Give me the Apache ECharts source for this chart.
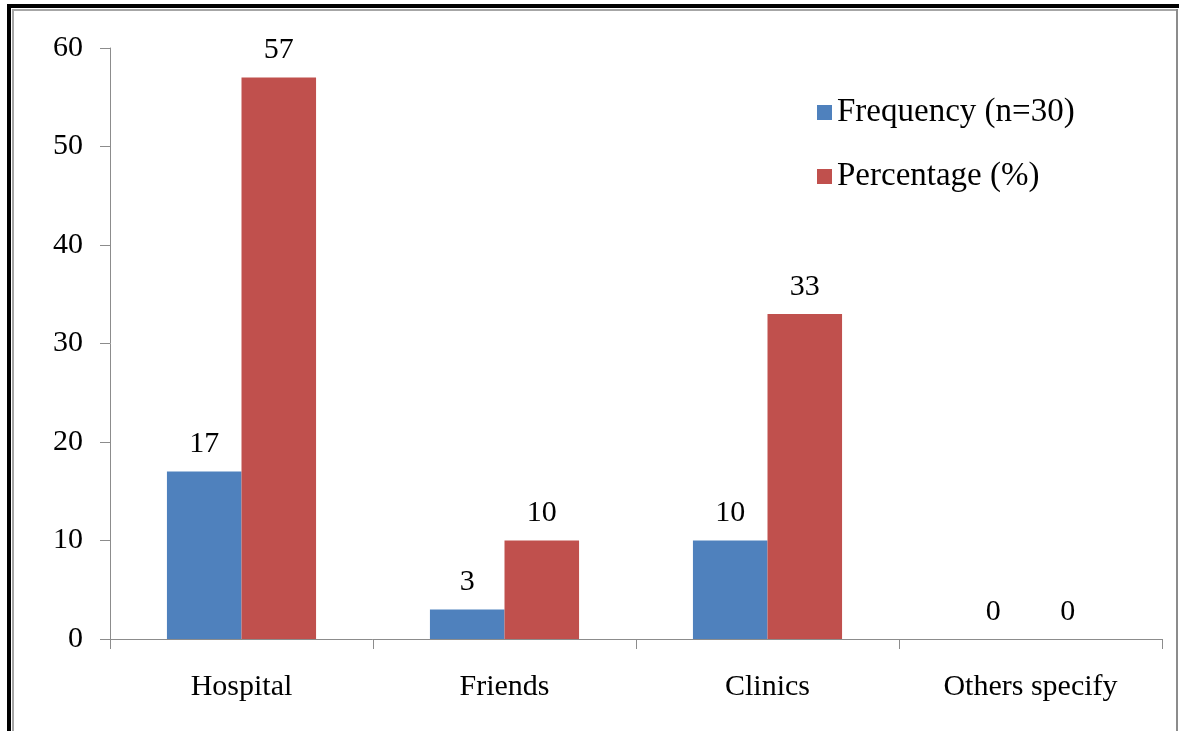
<!DOCTYPE html>
<html>
<head>
<meta charset="utf-8">
<title>Source of information</title>
<script src="https://cdn.jsdelivr.net/npm/echarts@6/dist/echarts.min.js"></script>
<style>
  html, body { margin: 0; padding: 0; background: #ffffff; }
  #chart { width: 1179px; height: 731px; }
</style>
</head>
<body>
<div id="chart"></div>
<script>
// Where respondents obtained information
const categories = ['Hospital', 'Friends', 'Clinics', 'Others specify'];
const frequency = [17, 3, 10, 0];
const percentage = [57, 10, 33, 0];
const seriesNames = ['Frequency (n=30)', 'Percentage (%)'];
const yTicks = { min: 0, max: 60, interval: 10 };

const FONT = '"Liberation Serif", "Times New Roman", serif';
const AXIS_GREY = '#8c8c8c';

const chart = echarts.init(document.getElementById('chart'));

const barLabel = {
  show: true,
  position: 'top',
  distance: 12,
  color: '#000',
  fontFamily: FONT,
  fontSize: 30
};

chart.setOption({
  animation: false,
  backgroundColor: '#ffffff',
  textStyle: { fontFamily: FONT },
  grid: { left: 110, right: 17, top: 48, bottom: 92, containLabel: false },
  legend: {
    orient: 'vertical',
    left: 812,
    top: 91,
    itemWidth: 15,
    itemHeight: 15,
    itemGap: 31,
    icon: 'rect',
    textStyle: { fontFamily: FONT, fontSize: 33, color: '#000', padding: [0, 0, 0, 0] },
    data: seriesNames
  },
  xAxis: {
    type: 'category',
    data: categories,
    axisLine: { lineStyle: { color: AXIS_GREY, width: 1 } },
    axisTick: { show: true, length: 10, alignWithLabel: false, lineStyle: { color: AXIS_GREY } },
    axisLabel: { color: '#000', fontFamily: FONT, fontSize: 30, margin: 33 },
    splitLine: { show: false }
  },
  yAxis: {
    type: 'value',
    min: yTicks.min,
    max: yTicks.max,
    interval: yTicks.interval,
    axisLine: { show: true, lineStyle: { color: AXIS_GREY, width: 1 } },
    axisTick: { show: true, length: 10, lineStyle: { color: AXIS_GREY } },
    axisLabel: { color: '#000', fontFamily: FONT, fontSize: 30, margin: 27 },
    splitLine: { show: false }
  },
  series: [
    {
      name: seriesNames[0],
      type: 'bar',
      data: frequency,
      barGap: '0%',
      barCategoryGap: '43.3%',
      itemStyle: { color: '#4f81bd' },
      label: barLabel
    },
    {
      name: seriesNames[1],
      type: 'bar',
      data: percentage,
      itemStyle: { color: '#c0504d' },
      label: barLabel
    }
  ],
  graphic: [
    // outer frame: heavy black edge on the left and top, thin grey inner line
    { type: 'rect', silent: true, shape: { x: 7, y: 4, width: 4, height: 727 }, style: { fill: '#000' } },
    { type: 'rect', silent: true, shape: { x: 7, y: 4, width: 1172, height: 4 }, style: { fill: '#000' } },
    { type: 'rect', silent: true, shape: { x: 12, y: 9, width: 2, height: 722 }, style: { fill: '#a6a6a6' } },
    { type: 'rect', silent: true, shape: { x: 12, y: 9, width: 1166, height: 2 }, style: { fill: '#a6a6a6' } },
    { type: 'rect', silent: true, shape: { x: 1176, y: 9, width: 2, height: 722 }, style: { fill: '#8c8c8c' } }
  ]
});
</script>
</body>
</html>
